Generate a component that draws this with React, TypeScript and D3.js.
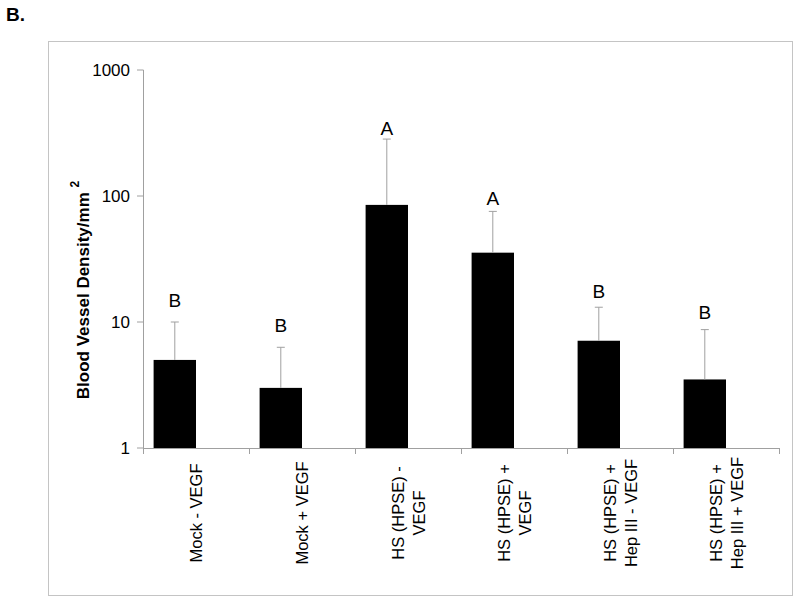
import React from "react";
import * as d3 from "d3";

const categories = [
  "Mock - VEGF",
  "Mock + VEGF",
  "HS (HPSE) - VEGF",
  "HS (HPSE) + VEGF",
  "HS (HPSE) + Hep III - VEGF",
  "HS (HPSE) + Hep III + VEGF",
];
const categoryLines = [
  ["Mock - VEGF"],
  ["Mock + VEGF"],
  ["HS (HPSE) -", "VEGF"],
  ["HS (HPSE) +", "VEGF"],
  ["HS (HPSE) +", "Hep III - VEGF"],
  ["HS (HPSE) +", "Hep III + VEGF"],
];
const means = [5.0, 3.0, 85, 35.5, 7.1, 3.5];
const errorTops = [10.0, 6.3, 283, 75.5, 13.1, 8.7];
const letters = ["B", "B", "A", "A", "B", "B"];
const letterValues = [14.9, 9.4, 346, 96, 17.4, 11.9];
const yTicks = [1, 10, 100, 1000];

const W = 800;
const H = 604;
const FONT = "'Liberation Sans', Arial, sans-serif";

export default function App() {
  const x = d3.scaleBand<string>().domain(categories).range([143, 779]).paddingInner(0).paddingOuter(0);
  const y = d3.scaleLog().domain([1, 1000]).range([448, 70]);
  const bw = x.bandwidth();
  const axisColor = "#a0a0a0";

  return (
    <svg width={W} height={H} style={{ position: "absolute", left: 0, top: 0 }} fontFamily={FONT}>
      <rect x={0} y={0} width={W} height={H} fill="#fff" />
      <text x={6} y={20.5} fontSize={19} fontWeight="bold">B.</text>
      <rect x={48.5} y={41.5} width={744} height={554} fill="none" stroke="#c4c4c4" strokeWidth={1} />

      {/* bars */}
      {categories.map((c, i) => {
        const bx = (x(c) as number) + bw * 0.1;
        return (
          <rect key={c} x={bx} y={y(means[i])} width={bw * 0.4} height={y(1) - y(means[i])} fill="#000" />
        );
      })}

      {/* error bars */}
      {categories.map((c, i) => {
        const cx = (x(c) as number) + bw * 0.3;
        return (
          <g key={c} stroke={axisColor} strokeWidth={1}>
            <line x1={cx} x2={cx} y1={y(means[i])} y2={y(errorTops[i])} />
            <line x1={cx - 4} x2={cx + 4} y1={y(errorTops[i])} y2={y(errorTops[i])} />
          </g>
        );
      })}

      {/* letters */}
      {categories.map((c, i) => {
        const cx = (x(c) as number) + bw * 0.3;
        return (
          <text key={c} x={cx} y={y(letterValues[i])} fontSize={19} textAnchor="middle" dominantBaseline="central">
            {letters[i]}
          </text>
        );
      })}

      {/* y axis */}
      <line x1={143.5} x2={143.5} y1={y(1000)} y2={y(1)} stroke={axisColor} />
      {yTicks.map((t) => (
        <g key={t}>
          <line x1={137} x2={143.5} y1={y(t)} y2={y(t)} stroke={axisColor} />
          <text x={130} y={y(t)} fontSize={17} textAnchor="end" dominantBaseline="central">{t}</text>
        </g>
      ))}

      {/* x axis */}
      <line x1={143} x2={779} y1={y(1) + 0.5} y2={y(1) + 0.5} stroke={axisColor} />
      {[...categories.map((c) => x(c) as number), 779].map((px, i) => (
        <line key={i} x1={px + 0.5} x2={px + 0.5} y1={y(1)} y2={y(1) + 6} stroke={axisColor} />
      ))}
      {categories.map((c, i) => {
        const cx = (x(c) as number) + bw / 2;
        const lines = categoryLines[i];
        const n = lines.length;
        return (
          <g key={c}>
            {lines.map((ln, j) => {
              const lx = cx + (j - (n - 1) / 2) * 21;
              return (
                <text key={j} transform={`translate(${lx},513) rotate(-90)`} fontSize={16.5} textAnchor="middle" dominantBaseline="central">
                  {ln}
                </text>
              );
            })}
          </g>
        );
      })}

      {/* y title */}
      <text transform="translate(83,290) rotate(-90)" fontSize={17} fontWeight="bold" textAnchor="middle" dominantBaseline="central">
        Blood Vessel Density/mm <tspan fontSize={12} dy={-8}>2</tspan>
      </text>
    </svg>
  );
}
